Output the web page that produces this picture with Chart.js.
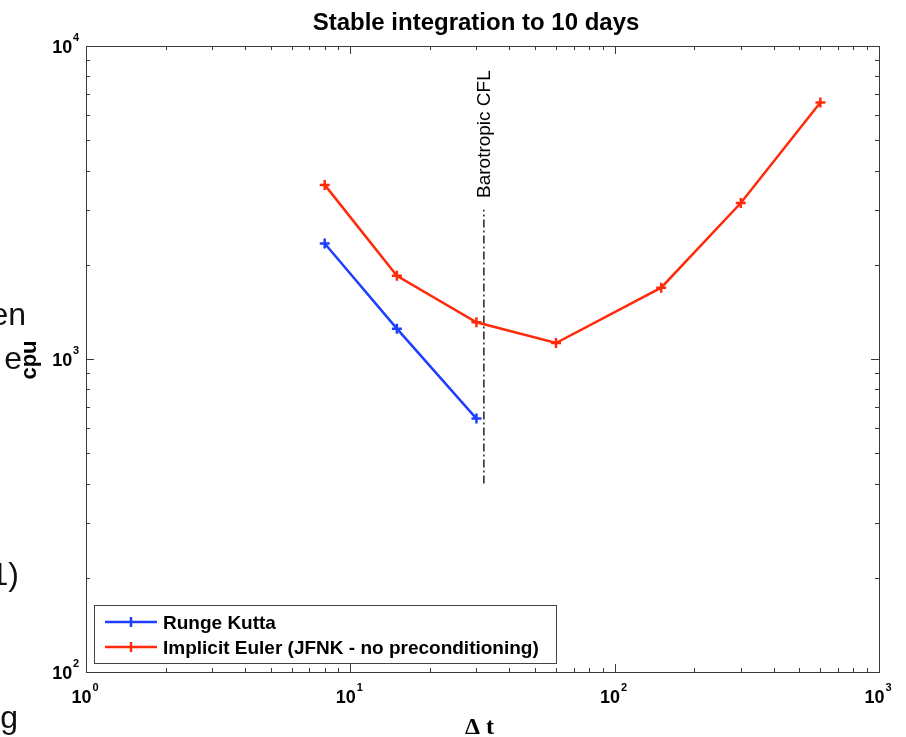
<!DOCTYPE html>
<html>
<head>
<meta charset="utf-8">
<script src="https://cdn.jsdelivr.net/npm/chart.js@4.4.1/dist/chart.umd.min.js"></script>
<style>
  html, body { margin: 0; padding: 0; background: #fff; }
  #wrap { position: relative; width: 906px; height: 737px; overflow: hidden; }
  #c { position: absolute; left: 0; top: 0; }
  .frag {
    position: absolute;
    font-family: "Liberation Sans", Arial, sans-serif;
    font-size: 32px;
    line-height: 32px;
    color: #111;
    white-space: nowrap;
    text-align: right;
  }
</style>
</head>
<body>
<div id="wrap">
  <canvas id="c" width="906" height="737"></canvas>
  <div class="frag" style="right:880px; top:298px">en</div>
  <div class="frag" style="right:884px; top:342px">e</div>
  <div class="frag" style="right:887px; top:558px">1)</div>
  <div class="frag" style="right:888px; top:701px">g</div>
</div>
<script>
// Time step (s) and CPU time for each integration scheme
const rkDt  = [8, 15, 30];
const rkCpu = [2340, 1250, 645];
const ieDt  = [8, 15, 30, 60, 150, 300, 600];
const ieCpu = [3600, 1845, 1310, 1125, 1690, 3150, 6600];

// Barotropic CFL limit marker
const cflDt  = [32, 32];
const cflCpu = [400, 3000];

// Axis decades
const xDecades = [1, 10, 100, 1000];
const yDecades = [100, 1000, 10000];

const seriesNames = ['Runge Kutta', 'Implicit Euler (JFNK - no preconditioning)'];
const titleText = 'Stable integration to 10 days';
const xTitle = 'Δ t';
const yTitle = 'cpu';
const cflLabel = 'Barotropic CFL';

const BLUE = '#1f3fff';
const RED = '#ff2a0a';
const AXIS = '#3a3a3a';
const SANS = '"Liberation Sans", Arial, Helvetica, sans-serif';

function pts(xs, ys) { return xs.map((x, i) => ({ x: x, y: ys[i] })); }

function logTicks(min, max) {
  const out = [];
  for (let d = min; d < max; d *= 10) {
    for (let k = 1; k <= 9; k++) out.push({ v: d * k, major: k === 1 });
  }
  out.push({ v: max, major: true });
  return out;
}

function exponentOf(v) { return String(Math.round(Math.log10(v))); }

// Draws box, inward ticks on all four sides and 10^n labels
const axesBox = {
  id: 'axesBox',
  beforeDatasetsDraw(chart) {
    const { ctx, chartArea: a, scales } = chart;
    const xs = scales.x, ys = scales.y;
    ctx.save();
    ctx.strokeStyle = AXIS;
    ctx.lineWidth = 1;
    ctx.strokeRect(a.left + 0.5, a.top + 0.5, a.right - a.left, a.bottom - a.top);
    ctx.beginPath();
    logTicks(xDecades[0], xDecades[xDecades.length - 1]).forEach(t => {
      const px = Math.round(xs.getPixelForValue(t.v)) + 0.5;
      const len = t.major ? 8 : 4;
      ctx.moveTo(px, a.bottom); ctx.lineTo(px, a.bottom - len);
      ctx.moveTo(px, a.top); ctx.lineTo(px, a.top + len);
    });
    logTicks(yDecades[0], yDecades[yDecades.length - 1]).forEach(t => {
      const py = Math.round(ys.getPixelForValue(t.v)) + 0.5;
      const len = t.major ? 8 : 4;
      ctx.moveTo(a.left, py); ctx.lineTo(a.left + len, py);
      ctx.moveTo(a.right, py); ctx.lineTo(a.right - len, py);
    });
    ctx.stroke();

    // tick labels
    ctx.fillStyle = '#000';
    const big = 'bold 18px ' + SANS, small = 'bold 11px ' + SANS;
    yDecades.forEach(v => {
      const py = ys.getPixelForValue(v);
      const e = exponentOf(v);
      ctx.font = small;
      const ew = ctx.measureText(e).width;
      ctx.textAlign = 'left'; ctx.textBaseline = 'alphabetic';
      const expLeft = a.left - 7 - ew;
      ctx.fillText(e, expLeft, py - 5);
      ctx.font = big;
      ctx.textAlign = 'right';
      ctx.fillText('10', expLeft - 0.5, py + 7);
    });
    xDecades.forEach(v => {
      const px = xs.getPixelForValue(v);
      const e = exponentOf(v);
      ctx.font = big;
      const bw = ctx.measureText('10').width;
      ctx.font = small;
      const ew = ctx.measureText(e).width;
      const left = px - 1 - (bw + 1 + ew) / 2;
      ctx.font = big; ctx.textAlign = 'left'; ctx.textBaseline = 'alphabetic';
      ctx.fillText('10', left, a.bottom + 31);
      ctx.font = small;
      ctx.fillText(e, left + bw + 1, a.bottom + 19);
    });

    // title
    ctx.font = 'bold 24px ' + SANS;
    ctx.textAlign = 'center';
    ctx.fillText(titleText, 476, 30);

    // axis titles
    ctx.font = 'bold 24px "Liberation Serif", "Times New Roman", serif';
    ctx.fillText(xTitle, (a.left + a.right) / 2 - 3, 734);
    ctx.save();
    ctx.translate(36, 360);
    ctx.rotate(-Math.PI / 2);
    ctx.font = 'bold 22px ' + SANS;
    ctx.textAlign = 'center';
    ctx.fillText(yTitle, 0, 0);
    ctx.restore();

    // CFL label, rotated alongside its line
    ctx.save();
    ctx.translate(xs.getPixelForValue(cflDt[0]) + 6, 198);
    ctx.rotate(-Math.PI / 2);
    ctx.font = '19px ' + SANS;
    ctx.textAlign = 'left';
    ctx.fillText(cflLabel, 0, 0);
    ctx.restore();
    ctx.restore();
  }
};

// Legend box in the lower-left corner of the axes
const boxLegend = {
  id: 'boxLegend',
  afterDatasetsDraw(chart) {
    const { ctx } = chart;
    const x0 = 94.5, y0 = 605.5, w = 462, h = 58;
    ctx.save();
    ctx.fillStyle = '#fff';
    ctx.fillRect(x0, y0, w, h);
    ctx.strokeStyle = '#444';
    ctx.lineWidth = 1;
    ctx.strokeRect(x0, y0, w, h);
    chart.data.datasets.slice(0, 2).forEach((ds, i) => {
      const yy = 622 + i * 25;
      ctx.strokeStyle = ds.borderColor;
      ctx.lineWidth = 2.5;
      ctx.beginPath();
      ctx.moveTo(105, yy); ctx.lineTo(157, yy);
      ctx.moveTo(131, yy - 5); ctx.lineTo(131, yy + 5);
      ctx.stroke();
      ctx.fillStyle = '#000';
      ctx.font = 'bold 19px ' + SANS;
      ctx.textAlign = 'left';
      ctx.textBaseline = 'alphabetic';
      ctx.fillText(ds.label, 163, yy + 7);
    });
    ctx.restore();
  }
};

new Chart(document.getElementById('c'), {
  type: 'line',
  data: {
    datasets: [
      {
        label: seriesNames[0],
        data: pts(rkDt, rkCpu),
        borderColor: BLUE, backgroundColor: BLUE,
        borderWidth: 2.5, pointStyle: 'cross', pointRadius: 5,
        pointBorderWidth: 2.5, tension: 0
      },
      {
        label: seriesNames[1],
        data: pts(ieDt, ieCpu),
        borderColor: RED, backgroundColor: RED,
        borderWidth: 2.5, pointStyle: 'cross', pointRadius: 5,
        pointBorderWidth: 2.5, tension: 0
      },
      {
        label: cflLabel,
        data: pts(cflDt, cflCpu),
        borderColor: '#222', borderWidth: 1.5,
        borderDash: [8, 3, 2, 3], pointRadius: 0, tension: 0
      }
    ]
  },
  options: {
    responsive: false,
    devicePixelRatio: 1,
    animation: false,
    layout: { padding: { left: 86, right: 27, top: 46, bottom: 65 } },
    scales: {
      x: { type: 'logarithmic', min: 1, max: 1000, display: false },
      y: { type: 'logarithmic', min: 100, max: 10000, display: false }
    },
    plugins: {
      legend: { display: false },
      tooltip: { enabled: false },
      title: { display: false }
    }
  },
  plugins: [axesBox, boxLegend]
});
</script>
</body>
</html>
